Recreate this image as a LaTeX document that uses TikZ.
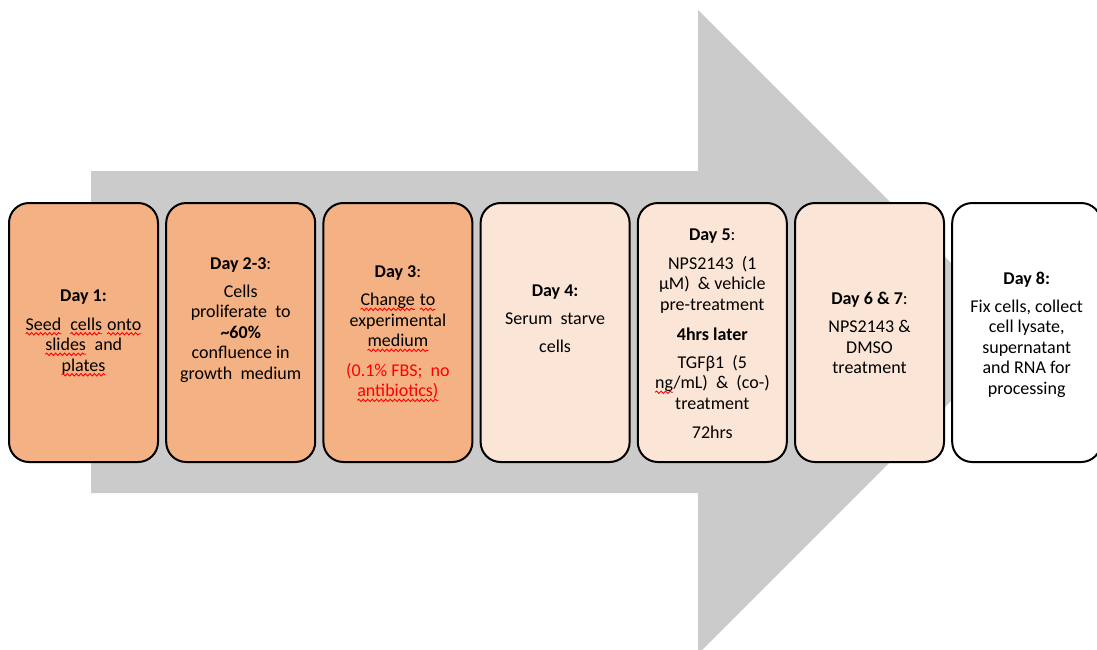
\documentclass[tikz,border=0pt]{standalone}
\usepackage{fontspec}
\setmainfont{Carlito}
\usepackage{xcolor}
\usetikzlibrary{decorations.pathmorphing}
\definecolor{arrowgrey}{HTML}{CBCBCB}
\definecolor{orangeD}{HTML}{F4B183}
\definecolor{orangeL}{HTML}{FBE5D6}
\newcommand\wv[1]{\tikz[baseline=(w.base)]{\node[inner sep=0pt, outer sep=0pt] (w) {#1};
  \draw[red, line width=0.9pt, decorate, decoration={snake, amplitude=1.2pt, segment length=4.5pt}]
   ([yshift=-3.5pt]w.base west) -- ([yshift=-3.5pt]w.base east);}}
\tikzset{
  stagebox/.style={draw=black, line width=2pt, rounded corners=20pt,
    minimum width=149pt, minimum height=259pt, inner sep=0pt},
  boxdark/.style={stagebox, fill=orangeD},
  boxlight/.style={stagebox, fill=orangeL},
  boxwhite/.style={stagebox, fill=white},
  stagetext/.style={align=center, font=\fontsize{18}{20.5}\selectfont, inner sep=0pt}
}
\begin{document}
\begin{tikzpicture}[x=1pt, y=-1pt]
\useasboundingbox (0,0) rectangle (1097,649);
\clip (0,0) rectangle (1097,649);
% big background arrow
\fill[arrowgrey] (91,171) -- (698,171) -- (698,10) -- (1020,332) -- (698,654) -- (698,493) -- (91,493) -- cycle;
% boxes
\node[boxdark]  (b1) at (83.5,332.5) {};
\node[boxdark]  (b2) at (240.7,332.5) {};
\node[boxdark]  (b3) at (397.9,332.5) {};
\node[boxlight] (b4) at (555.1,332.5) {};
\node[boxlight] (b5) at (712.3,332.5) {};
\node[boxlight] (b6) at (869.5,332.5) {};
\node[boxwhite] (b7) at (1026.7,332.5) {};
% texts
\node[stagetext] (t1) at (83.5,333) {{\bfseries Day 1:}\\[8.5pt]
  \wv{Seed}\ \ \wv{cells} \wv{onto}\\ \wv{slides}\ \ and\\ \wv{plates}};
\node[stagetext] (t2) at (240.7,320) {{\bfseries Day 2-3}:\\[7.2pt]
  Cells\\ proliferate\ \ to\\ \textbf{\textasciitilde60\%}\\ confluence in\\ growth\ \ medium};
\node[stagetext] (t3) at (397.9,334) {{\bfseries Day 3}:\\[7.5pt]
  \wv{Change} \wv{to}\\ experimental\\ \wv{medium}\\[9pt]
  \textcolor{red}{(0.1\% FBS;\ \ no}\\ \textcolor{red}{\wv{antibiotics)}}};
\node[stagetext] (t4) at (555.1,318.5) {{\bfseries Day 4:}\\[7.5pt]
  Serum\ \ starve\\[7.5pt] cells};
\node[stagetext] (t5) at (712.3,333.5) {{\bfseries Day 5}:\\[8.5pt]
  NPS2143\ \ (1\\ µM)\ \ \&\ vehicle\\ pre-treatment\\[9.5pt]
  {\bfseries 4hrs later}\\[7.5pt]
  TGFβ1\ \ (5\\ \wv{ng}/mL)\ \ \&\ \ (co-)\\ treatment\\[8.5pt] 72hrs};
\node[stagetext] (t6) at (869.5,333) {{\bfseries Day 6 \& 7}:\\[7.5pt]
  NPS2143 \&\\ DMSO\\ treatment};
\node[stagetext] (t7) at (1026.7,334.5) {{\bfseries Day 8:}\\[7.5pt]
  Fix cells, collect\\ cell lysate,\\ supernatant\\ and RNA for\\ processing};
\end{tikzpicture}
\end{document}
